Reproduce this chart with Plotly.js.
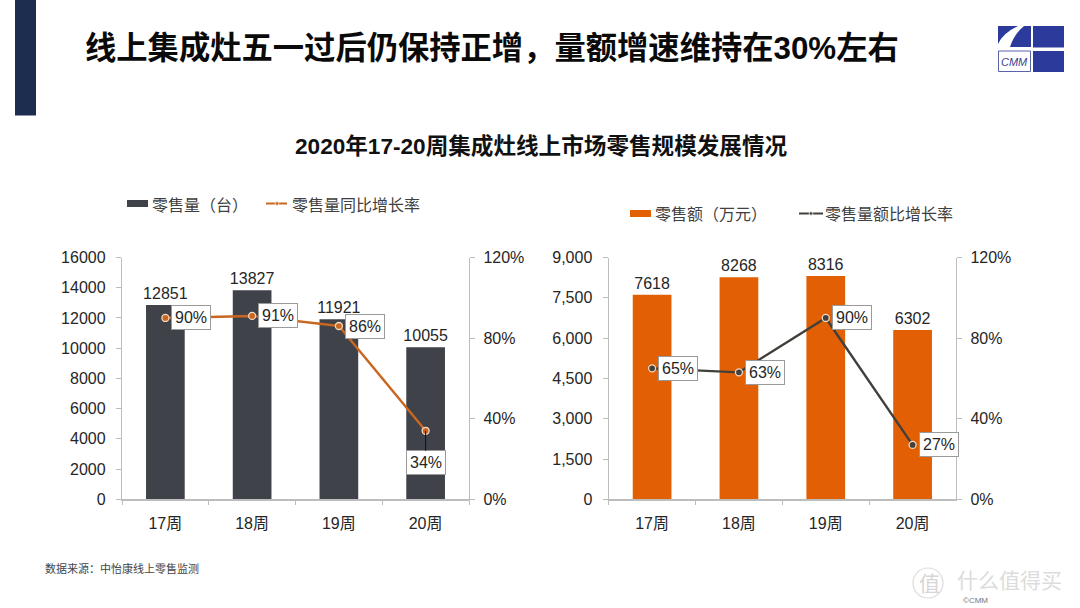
<!DOCTYPE html>
<html>
<head>
<meta charset="utf-8">
<script src="https://cdn.plot.ly/plotly-3.0.1.min.js"></script>
<style>html,body{margin:0;padding:0;background:#fff}#c{width:1080px;height:608px}</style>
</head>
<body>
<div id="c"></div>
<script>
const categories = ["17周", "18周", "19周", "20周"];
const volume = [12851, 13827, 11921, 10055];
const volumeGrowth = [90, 91, 86, 34];
const revenue = [7618, 8268, 8316, 6302];
const revenueGrowth = [65, 63, 90, 27];
const volumeName = "零售量（台）";
const volumeGrowthName = "零售量同比增长率";
const revenueName = "零售额（万元）";
const revenueGrowthName = "零售量额比增长率";
const mainTitle = "线上集成灶五一过后仍保持正增，量额增速维持在30%左右";
const subTitle = "2020年17-20周集成灶线上市场零售规模发展情况";
const sourceNote = "数据来源：中怡康线上零售监测";

const W = 1080, H = 608;
const FONT = '"Liberation Sans","Noto Sans CJK SC",sans-serif';
const px = x => x / W, py = y => 1 - y / H;
const AXIS = "#bdbdbd", TXT = "#262626";
const BLUE = "#2c3a9c", DARK = "#40424a", ORANGE = "#e35f03", LINE_O = "#c9661f", LINE_D = "#43403c";

const barTrace = (name, y, color, xa, ya) => ({
  type: "bar", name, x: categories, y, xaxis: xa, yaxis: ya, showlegend: false,
  width: 0.446, marker: {color},
  text: y.map(String), textposition: "outside", cliponaxis: false, constraintext: "none",
  textfont: {family: FONT, size: 16, color: TXT}, hoverinfo: "skip"
});
const lineTrace = (name, y, color, xa, ya) => ({
  type: "scatter", mode: "lines+markers", name, x: categories, y, xaxis: xa, yaxis: ya, showlegend: false,
  line: {color, width: 2.4},
  marker: {color, size: 7, line: {color: "#f3d9c4", width: 1.3}},
  cliponaxis: false, hoverinfo: "skip"
});

const data = [
  barTrace(volumeName, volume, DARK, "x", "y"),
  lineTrace(volumeGrowthName, volumeGrowth, LINE_O, "x", "y2"),
  barTrace(revenueName, revenue, ORANGE, "x2", "y3"),
  lineTrace(revenueGrowthName, revenueGrowth, LINE_D, "x2", "y4")
];

const yDomain = [py(499.3), py(257.5)];
const xAxis = (domain) => ({
  domain, type: "category", tickson: "boundaries", ticks: "outside", ticklen: 4, tickcolor: AXIS,
  linecolor: AXIS, linewidth: 1.2, showline: true, showgrid: false, zeroline: false, ticklabelstandoff: 9,
  tickfont: {family: FONT, size: 16, color: TXT}, range: [-0.5, 3.5], fixedrange: true
});
const leftAxis = (anchor, range, dtick, tickformat) => ({
  domain: yDomain, anchor, range, dtick, tickformat, ticks: "outside", ticklen: 5, tickcolor: AXIS,
  showline: true, linecolor: AXIS, linewidth: 1.2, showgrid: false, zeroline: false, ticklabelstandoff: 7,
  tickfont: {family: FONT, size: 16, color: TXT}, fixedrange: true
});
const rightAxis = (anchor, overlaying) => ({
  domain: yDomain, anchor, overlaying, side: "right", range: [0, 120], dtick: 40, ticksuffix: "%",
  ticks: "outside", ticklen: 5, tickcolor: AXIS, showline: true, linecolor: AXIS, linewidth: 1.2, ticklabelstandoff: 5,
  showgrid: false, zeroline: false, tickfont: {family: FONT, size: 16, color: TXT}, fixedrange: true
});

const growthNote = (xa, ya, i, values, xshift, leader) => ({
  xref: xa, yref: ya, x: categories[i], y: values[i], text: values[i] + "%",
  showarrow: !!leader, ax: 0, ay: leader ? 32 : 0, arrowhead: 0, arrowwidth: 1, arrowcolor: "#111",
  xshift: leader ? 0 : xshift,
  font: {family: FONT, size: 16, color: TXT}, bgcolor: "#fff", bordercolor: "#9a9a9a", borderwidth: 1, borderpad: 3
});
const paperText = (text, x, y, font) => ({
  xref: "paper", yref: "paper", x: px(x), y: py(y), text, showarrow: false,
  xanchor: "left", yanchor: "middle", font: Object.assign({family: FONT, color: "#111"}, font)
});

const rect = (x0, y0, x1, y1, fill, line) => ({
  type: "rect", xref: "paper", yref: "paper", x0: px(x0), x1: px(x1), y0: py(y0), y1: py(y1),
  fillcolor: fill, line: line || {width: 0}
});
const seg = (x0, x1, y, color) => ({
  type: "line", xref: "paper", yref: "paper", x0: px(x0), x1: px(x1), y0: py(y), y1: py(y), line: {color, width: 2}
});
const dot = (x, y, r, fill, color) => ({
  type: "circle", xref: "paper", yref: "paper", x0: px(x - r), x1: px(x + r), y0: py(y + r), y1: py(y - r),
  fillcolor: fill, line: {color, width: 1}
});
const P = (x, y) => px(x).toFixed(5) + "," + py(y).toFixed(5);
const poly = (d, fill) => ({type: "path", xref: "paper", yref: "paper", path: d, fillcolor: fill, line: {width: 0}});

const legendFont = {size: 16, color: "#404040"};

const layout = {
  width: W, height: H, margin: {l: 0, r: 0, t: 0, b: 0}, paper_bgcolor: "#fff", plot_bgcolor: "rgba(0,0,0,0)",
  showlegend: false, barmode: "group",
  xaxis: xAxis([px(122), px(469)]),
  yaxis: leftAxis("x", [0, 16000], 2000, "d"),
  yaxis2: rightAxis("x", "y"),
  xaxis2: xAxis([px(608.7), px(956)]),
  yaxis3: leftAxis("x2", [0, 9000], 1500, ","),
  yaxis4: rightAxis("x2", "y3"),
  shapes: [
    rect(15, 0, 36, 115.5, "#1c2d4f"),
    poly(`M${P(998,26)} L${P(1018,26)} Q${P(1003,33)} ${P(998,44)} Z`, BLUE),
    poly(`M${P(1024,26)} L${P(1031,26)} L${P(1031,47)} L${P(1010,47)} Q${P(1014,34)} ${P(1024,26)} Z`, BLUE),
    rect(1033, 26, 1064, 47.5, BLUE),
    rect(1033, 51, 1064, 72, BLUE),
    rect(998.5, 51, 1030.5, 71.5, "#fff", {color: "#5a64a8", width: 1}),
    rect(127, 200, 148, 207, DARK),
    seg(266, 287, 203.5, LINE_O),
    dot(277, 203.5, 1.8, LINE_O, "#f3d9c4"),
    rect(630, 210, 651, 217, ORANGE),
    seg(799, 823, 213.5, LINE_D),
    dot(811, 213.5, 1.8, LINE_D, "#e8e8e8"),
    {type: "circle", xref: "paper", yref: "paper", x0: px(913), x1: px(943), y0: py(598), y1: py(568),
     line: {color: "#dcdcdc", width: 1.2}, fillcolor: "rgba(0,0,0,0)"}
  ],
  annotations: [
    paperText(mainTitle, 83, 48.5, {size: 31.3, color: "#0a0a0a", weight: 700}),
    paperText(subTitle, 293, 146, {size: 22.6, weight: 700}),
    paperText(sourceNote, 43, 568, {size: 11, color: "#444"}),
    paperText("CMM", 999, 62, {family: "Liberation Sans", size: 11, color: "#3a4490", style: "italic"}),
    paperText(volumeName, 150, 205, legendFont),
    paperText(volumeGrowthName, 290, 205, legendFont),
    paperText(revenueName, 653, 214, legendFont),
    paperText(revenueGrowthName, 823, 214, legendFont),
    paperText("值", 917, 583, {size: 21, color: "#d6d6d6"}),
    paperText("什么值得买", 955, 580, {size: 21, color: "#dcdcdc"}),
    paperText("©CMM", 961, 600, {size: 8, color: "#777"}),
    growthNote("x", "y2", 0, volumeGrowth, 26),
    growthNote("x", "y2", 1, volumeGrowth, 26),
    growthNote("x", "y2", 2, volumeGrowth, 26),
    growthNote("x", "y2", 3, volumeGrowth, 0, true),
    growthNote("x2", "y4", 0, revenueGrowth, 26),
    growthNote("x2", "y4", 1, revenueGrowth, 26),
    growthNote("x2", "y4", 2, revenueGrowth, 26),
    growthNote("x2", "y4", 3, revenueGrowth, 26)
  ]
};

Plotly.newPlot("c", data, layout, {displayModeBar: false, staticPlot: true});
</script>
</body>
</html>
